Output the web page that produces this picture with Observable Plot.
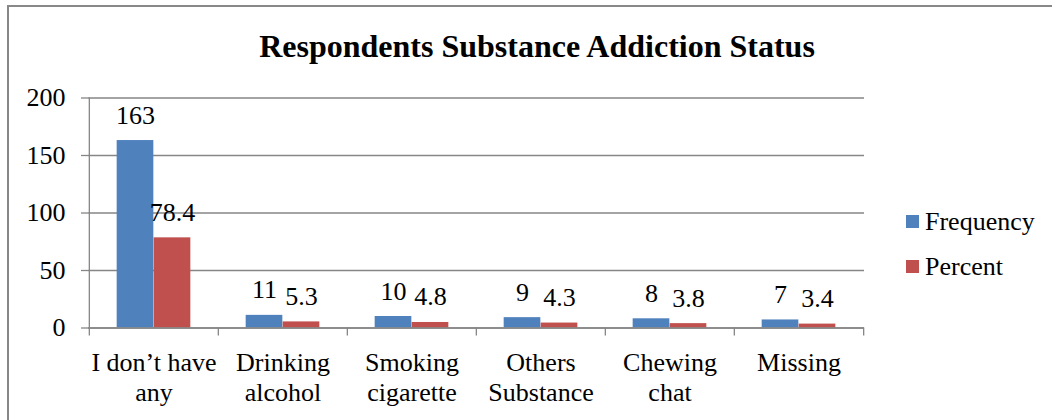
<!DOCTYPE html>
<html>
<head>
<meta charset="utf-8">
<script src="https://cdn.jsdelivr.net/npm/d3@7"></script>
<script src="https://cdn.jsdelivr.net/npm/@observablehq/plot@0.6"></script>
<style>
  body { margin: 0; background: #fff; }
  #chart {
    position: relative; width: 1052px; height: 420px; overflow: hidden;
    background: #fff; color: #000;
    font-family: "Liberation Serif", "Times New Roman", serif;
  }
  #frame {
    position: absolute; left: 7px; top: 5px; width: 1100px; height: 500px;
    border: 2px solid #888; box-sizing: border-box;
  }
  #title {
    position: absolute; left: 0; top: 30px; width: 1074px;
    text-align: center; font-weight: bold; font-size: 32px; line-height: 32px;
    white-space: nowrap;
  }
  #plot { position: absolute; left: 0; top: 80px; }
  #plot svg {
    font-family: "Liberation Serif", "Times New Roman", serif !important;
    font-size: 26px;
  }
  .legend-row {
    position: absolute; left: 906px; height: 26px;
    font-size: 26px; line-height: 26px; white-space: nowrap;
  }
  .legend-row .swatch { position: absolute; left: 0; top: 6px; width: 13px; height: 13px; }
  .legend-row .label { position: absolute; left: 19px; top: 0; }
</style>
</head>
<body>
<div id="chart">
  <div id="frame"></div>
  <div id="title"></div>
  <div id="plot"></div>
  <div id="legend"></div>
</div>
<script>
// Survey answers: substance addiction status of respondents
const chartTitle = "Respondents Substance Addiction Status";
const categories = ["I don’t have any", "Drinking alcohol", "Smoking cigarette", "Others Substance", "Chewing chat", "Missing"];
const tickLabels = ["I don’t have\nany", "Drinking\nalcohol", "Smoking\ncigarette", "Others\nSubstance", "Chewing\nchat", "Missing"];
const seriesNames = ["Frequency", "Percent"];
const frequency = [163, 11, 10, 9, 8, 7];
const percent = [78.4, 5.3, 4.8, 4.3, 3.8, 3.4];
const seriesColors = ["#4F81BD", "#C0504D"];
const yTicks = [0, 50, 100, 150, 200];

// Long-format rows for the grouped bars
const rows = categories.flatMap((c, i) => [
  {category: c, series: seriesNames[0], value: frequency[i]},
  {category: c, series: seriesNames[1], value: percent[i]}
]);
const freqRows = rows.filter(d => d.series === seriesNames[0]);
const pctRows = rows.filter(d => d.series === seriesNames[1]);

// Layout
const W = 1052, H = 340;
const mL = 88, mR = 188, mT = 17.5, mB = 92.5;
const bw = (W - mL - mR) / categories.length;   // width of one category slot
const barW = 37;                                  // width of each bar
const outer = (bw - 2 * barW) / 2;                // gap between slot edge and bar pair
const GRID = "#868686";

document.getElementById("title").textContent = chartTitle;

const chart = Plot.plot({
  width: W,
  height: H,
  marginLeft: mL,
  marginRight: mR,
  marginTop: mT,
  marginBottom: mB,
  style: "font-family: 'Liberation Serif', 'Times New Roman', serif; font-size: 26px; color: #000; background: transparent; overflow: visible;",
  x: {domain: categories, padding: 0, label: null},
  y: {domain: [0, 200], label: null},
  color: {domain: seriesNames, range: seriesColors},
  marks: [
    Plot.gridY(yTicks, {stroke: GRID, strokeOpacity: 1, strokeWidth: 1.3}),
    Plot.barY(freqRows, {x: "category", y: "value", fill: "series", insetLeft: outer, insetRight: outer + barW}),
    Plot.barY(pctRows, {x: "category", y: "value", fill: "series", insetLeft: outer + barW, insetRight: outer}),
    // axis lines and category separator ticks
    Plot.ruleY([0], {stroke: GRID, strokeWidth: 1.3}),
    Plot.ruleX([categories[0]], {x: d => d, y1: 0, y2: 200, dx: -bw / 2, stroke: GRID, strokeWidth: 1.3}),
    Plot.ruleX(categories, {x: d => d, y1: 0, y2: 0, insetBottom: -8, dx: -bw / 2, stroke: GRID, strokeWidth: 1.3}),
    Plot.ruleX([categories[categories.length - 1]], {x: d => d, y1: 0, y2: 0, insetBottom: -8, dx: bw / 2, stroke: GRID, strokeWidth: 1.3}),
    Plot.axisY({ticks: yTicks, tickSize: 7, tickPadding: 16, stroke: GRID, strokeWidth: 1.3, fill: "#000", fontSize: 26}),
    Plot.axisX({tickSize: 0, tickPadding: 22, tickFormat: c => tickLabels[categories.indexOf(c)], lineHeight: 1.15, fill: "#000", fontSize: 26}),
    // value labels above bars
    Plot.text(freqRows, {x: "category", y: "value", text: d => String(d.value), dx: -barW / 2, dy: -17, lineAnchor: "bottom", fill: "#000", fontSize: 26}),
    Plot.text(pctRows, {x: "category", y: "value", text: d => String(d.value), dx: barW / 2, dy: -17, lineAnchor: "bottom", fill: "#000", fontSize: 26})
  ]
});
document.getElementById("plot").appendChild(chart);

// Legend on the right
const legend = document.getElementById("legend");
seriesNames.forEach((name, i) => {
  const row = document.createElement("div");
  row.className = "legend-row";
  row.style.top = (209 + i * 45) + "px";
  const sw = document.createElement("div");
  sw.className = "swatch";
  sw.style.background = seriesColors[i];
  const lab = document.createElement("span");
  lab.className = "label";
  lab.textContent = name;
  row.appendChild(sw);
  row.appendChild(lab);
  legend.appendChild(row);
});
</script>
</body>
</html>
